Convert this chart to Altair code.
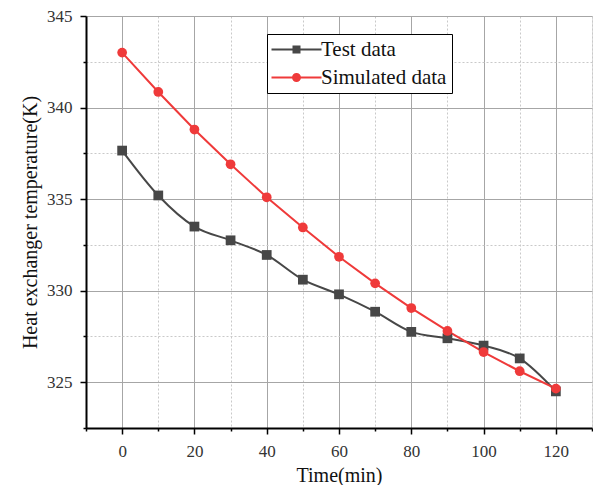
import altair as alt
import pandas as pd

time_min = [0, 10, 20, 30, 40, 50, 60, 70, 80, 90, 100, 110, 120]
test_data = [337.65, 335.2, 333.5, 332.75, 331.95, 330.6, 329.8, 328.85, 327.75, 327.4, 327.0, 326.3, 324.5]
sim_data = [343.0, 340.85, 338.8, 336.9, 335.1, 333.45, 331.85, 330.4, 329.05, 327.8, 326.65, 325.6, 324.65]
series_names = ["Test data", "Simulated data"]
series_colors = ["#474747", "#ef3a3a"]

x_ticks = list(range(-10, 131, 10))
y_ticks = [322.5 + 2.5 * i for i in range(10)]

df_test = pd.DataFrame({"time": time_min, "temp": test_data, "series": series_names[0]})
df_sim = pd.DataFrame({"time": time_min, "temp": sim_data, "series": series_names[1]})
df_all = pd.concat([df_test, df_sim], ignore_index=True)

FONT = "Liberation Serif"

x_axis = alt.Axis(
    values=x_ticks,
    title="Time(min)",
    titleFont=FONT, titleFontSize=20, titleFontWeight="normal", titleColor="#111",
    titlePadding=6,
    labelFont=FONT, labelFontSize=17, labelColor="#333", labelPadding=9,
    labelExpr="datum.value % 20 === 0 ? datum.label : ''",
    domainColor="black", domainWidth=2,
    tickColor="black", tickWidth=1.5,
    tickSize={"condition": {"test": "datum.value % 20 === 0", "value": 6}, "value": 3},
    grid=True,
    gridColor={"condition": {"test": "datum.value % 20 === 0", "value": "#a6a6a6"}, "value": "#c9c9c9"},
    gridDash={"condition": {"test": "datum.value % 20 === 0", "value": []}, "value": [2, 2]},
    gridWidth=1,
)
y_axis = alt.Axis(
    values=y_ticks,
    title="Heat exchanger temperature(K)",
    titleFont=FONT, titleFontSize=20, titleFontWeight="normal", titleColor="#111",
    titlePadding=6,
    labelFont=FONT, labelFontSize=17, labelColor="#333", labelPadding=8,
    labelExpr="datum.value % 5 === 0 ? datum.label : ''",
    domainColor="black", domainWidth=2,
    tickColor="black", tickWidth=1.5,
    tickSize={"condition": {"test": "datum.value % 5 === 0", "value": 6}, "value": 3},
    grid=True,
    gridColor={"condition": {"test": "datum.value % 5 === 0", "value": "#a6a6a6"}, "value": "#c9c9c9"},
    gridDash={"condition": {"test": "datum.value % 5 === 0", "value": []}, "value": [2, 2]},
    gridWidth=1,
)

x_enc = alt.X("time:Q", scale=alt.Scale(domain=[-10, 130], nice=False, zero=False), axis=x_axis)
y_enc = alt.Y("temp:Q", scale=alt.Scale(domain=[322.5, 345], nice=False, zero=False), axis=y_axis)

base_test = alt.Chart(df_test).encode(x=x_enc, y=y_enc)
base_sim = alt.Chart(df_sim).encode(x=x_enc, y=y_enc)

test_line = base_test.mark_line(color=series_colors[0], strokeWidth=2, interpolate="monotone")
test_pts = base_test.mark_point(shape="square", filled=True, color=series_colors[0], size=95, opacity=1)
sim_line = base_sim.mark_line(color=series_colors[1], strokeWidth=2)
sim_pts = base_sim.mark_point(shape="circle", filled=True, color=series_colors[1], size=95, opacity=1)

# legend symbols: line + marker, drawn as filled paths (unit = 5px)
sq_path = "M-2.2,-0.2H7.8V0.2H-2.2Z M2,-0.8H3.6V0.8H2Z"
ci_path = "M-2.2,-0.2H7.8V0.2H-2.2Z M3.7,0A0.9,0.9 0 1,1 1.9,0A0.9,0.9 0 1,1 3.7,0Z"

# legend-only layer: no marks drawn (filtered out), scale domain is explicit
legend_layer = alt.Chart(df_all).mark_point(filled=True, opacity=1).encode(
    x=x_enc, y=y_enc,
    color=alt.Color("series:N", scale=alt.Scale(domain=series_names, range=series_colors),
                    legend=alt.Legend(
                        orient="none", legendX=181, legendY=18, title=None,
                        strokeColor="black", fillColor="white", padding=5,
                        labelFont=FONT, labelFontSize=21, labelColor="#111",
                        labelOffset=28, rowPadding=6, symbolSize=100,
                        symbolStrokeWidth=0, symbolOpacity=1, cornerRadius=0,
                    )),
    shape=alt.Shape("series:N", scale=alt.Scale(domain=series_names, range=[sq_path, ci_path])),
).transform_filter("datum.time < -1000")

chart = alt.layer(test_line, sim_line, test_pts, sim_pts, legend_layer).properties(
    width=585, height=477,
    autosize=alt.AutoSizeParams(type="fit", contains="padding"),
    padding={"left": 12, "top": -1, "right": 0, "bottom": 0},
).configure_view(stroke="black", strokeWidth=1.5).configure(background="white")

chart.save("out.html", embed_options={"renderer": "svg", "actions": False})
